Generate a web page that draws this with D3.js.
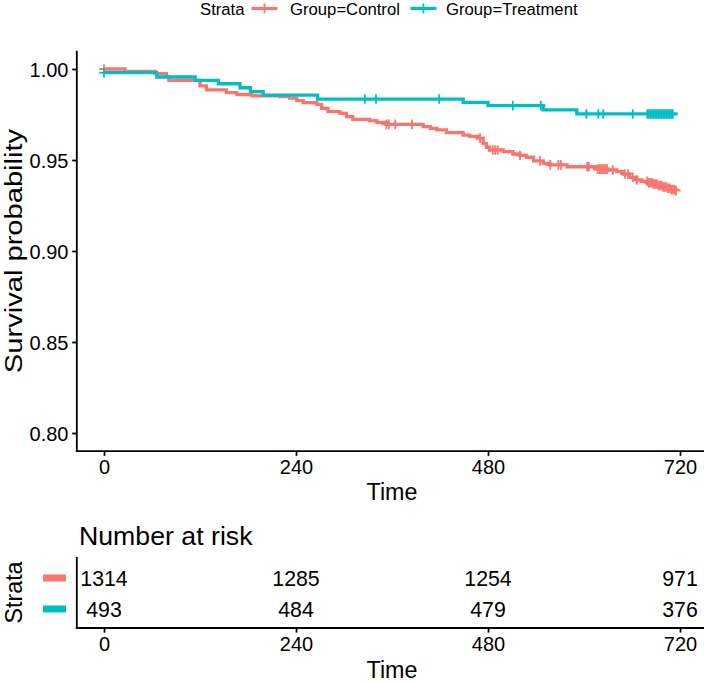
<!DOCTYPE html>
<html>
<head>
<meta charset="utf-8">
<script src="https://cdn.jsdelivr.net/npm/d3@7"></script>
<style>
  html, body { margin: 0; padding: 0; background: #fff; }
  svg { display: block; font-family: "Liberation Sans", Arial, sans-serif; }
</style>
</head>
<body>
<svg id="chart" width="704" height="682"></svg>
<script>
// ---------------- data ----------------
const strata = ["Group=Control", "Group=Treatment"];
const strataColors = ["#F8766D", "#00BFC4"];

const controlTime = [0, 26, 64, 78, 81, 120, 128, 153, 166, 185, 220, 232, 241, 249, 266, 272, 280, 295, 303, 311, 332, 341, 353, 399, 408, 416, 428, 449, 457, 467, 474, 478, 482, 499, 511, 520, 528, 537, 549, 557, 579, 614, 630, 641, 649, 657, 666, 672, 680, 686, 692, 698, 704, 709, 714];
const controlSurv = [1.000, 0.9987, 0.9975, 0.996, 0.9938, 0.9907, 0.9885, 0.987, 0.986, 0.9853, 0.9848, 0.984, 0.9826, 0.9815, 0.9806, 0.9784, 0.9766, 0.9756, 0.9738, 0.9723, 0.9716, 0.9707, 0.9696, 0.9683, 0.9674, 0.9665, 0.965, 0.9637, 0.963, 0.962, 0.959, 0.957, 0.9555, 0.9546, 0.9533, 0.9525, 0.9515, 0.9495, 0.9482, 0.9473, 0.9463, 0.945, 0.9445, 0.9436, 0.9423, 0.9405, 0.939, 0.9383, 0.9375, 0.9368, 0.936, 0.9352, 0.9345, 0.9338, 0.9332];
const controlEnd = 716;
const controlCensor = [0, 353, 356, 364, 385, 470, 486, 489, 492, 520, 545, 558, 568, 571, 604, 606, 617, 619, 621, 623, 625, 627, 629, 636, 651, 655, 661, 666, 679, 681, 683, 685, 687, 689, 691, 693, 695, 697, 699, 701, 703, 705, 707, 709, 711, 713, 715];

const treatTime = [0, 66, 114, 143, 170, 183, 199, 267, 449, 480, 549, 591];
const treatSurv = [0.998, 0.9956, 0.9938, 0.9919, 0.9897, 0.9876, 0.9857, 0.9835, 0.9817, 0.9799, 0.9775, 0.9753];
const treatEnd = 717;
const treatCensor = [0, 326, 340, 419, 511, 546, 603, 618, 624, 661, 679, 681, 683, 685, 687, 689, 691, 693, 695, 697, 699, 701, 703, 705, 707, 709, 711];

const xTicks = [0, 240, 480, 720];
const yTicks = [0.80, 0.85, 0.90, 0.95, 1.00];
const riskControl = [1314, 1285, 1254, 971];
const riskTreat = [493, 484, 479, 376];

// ---------------- setup ----------------
const svg = d3.select("#chart");
const FONT = '"Liberation Sans", Arial, sans-serif';
const axisW = 1.8;

const x = d3.scaleLinear().domain([0, 720]).range([104, 680]);
const y = d3.scaleLinear().domain([0.80, 1.00]).range([433, 69]);

const leftX = x(-34);      // y-axis line position
const topY = y(1.01);
const botY = y(0.79);

const series = [
  {name: strata[0], color: strataColors[0], time: controlTime, surv: controlSurv, end: controlEnd, censor: controlCensor},
  {name: strata[1], color: strataColors[1], time: treatTime, surv: treatSurv, end: treatEnd, censor: treatCensor}
];

// ---------------- legend ----------------
const leg = svg.append("g").attr("font-family", FONT).attr("font-size", 16.7);
leg.append("text").attr("x", 200).attr("y", 15).text("Strata");
const legItems = [{cx: 264.5, tx: 290}, {cx: 423.5, tx: 446}];
series.forEach((s, i) => {
  const it = legItems[i];
  leg.append("line").attr("x1", it.cx - 13).attr("x2", it.cx + 13).attr("y1", 8.5).attr("y2", 8.5)
    .attr("stroke", s.color).attr("stroke-width", 3.2);
  leg.append("line").attr("x1", it.cx).attr("x2", it.cx).attr("y1", 3.5).attr("y2", 13.5)
    .attr("stroke", s.color).attr("stroke-width", 1.8);
  leg.append("text").attr("x", it.tx).attr("y", 15).text(s.name);
});

// ---------------- main plot ----------------
const main = svg.append("g");

const line = d3.line().x(d => x(d[0])).y(d => y(d[1])).curve(d3.curveStepAfter);
series.forEach(s => {
  const pts = s.time.map((t, i) => [t, s.surv[i]]);
  pts.push([s.end, s.surv[s.surv.length - 1]]);
  main.append("path").attr("d", line(pts)).attr("fill", "none")
    .attr("stroke", s.color).attr("stroke-width", 3.3);
  const survAt = t => s.surv[Math.max(0, d3.bisectRight(s.time, t) - 1)];
  main.append("g").selectAll("path").data(s.censor).join("path")
    .attr("d", t => {
      const cx = x(t), cy = y(survAt(t));
      return `M${cx - 4.8},${cy}H${cx + 4.8}M${cx},${cy - 4.8}V${cy + 4.8}`;
    })
    .attr("stroke", s.color).attr("stroke-width", 1.8).attr("fill", "none");
});

// axes
function styleAxis(g) {
  g.select(".domain").remove();
  g.selectAll(".tick line").attr("stroke", "#000").attr("stroke-width", axisW);
  g.selectAll(".tick text").attr("fill", "#000").attr("font-family", FONT).attr("font-size", 20);
}
const yAxis = main.append("g").attr("transform", `translate(${leftX},0)`)
  .call(d3.axisLeft(y).tickValues(yTicks).tickFormat(d3.format(".2f")).tickSize(4.6).tickPadding(3.7));
styleAxis(yAxis);
yAxis.selectAll(".tick text").attr("dy", "0.36em");

const xAxis = main.append("g").attr("transform", `translate(0,${botY})`)
  .call(d3.axisBottom(x).tickValues(xTicks).tickFormat(d3.format("d")).tickSize(4.6).tickPadding(3.7));
styleAxis(xAxis);
xAxis.selectAll(".tick text").attr("dy", "0.72em");

main.append("line").attr("x1", leftX).attr("x2", leftX).attr("y1", topY).attr("y2", botY + axisW / 2)
  .attr("stroke", "#000").attr("stroke-width", axisW);
main.append("line").attr("x1", leftX - axisW / 2).attr("x2", 704).attr("y1", botY).attr("y2", botY)
  .attr("stroke", "#000").attr("stroke-width", axisW);

main.append("text").attr("x", (104 + 680) / 2).attr("y", 500).attr("text-anchor", "middle")
  .attr("font-family", FONT).attr("font-size", 23.3).text("Time");
main.append("text").attr("transform", `translate(22,${(topY + botY) / 2}) rotate(-90) scale(1.25,1)`)
  .attr("text-anchor", "middle").attr("font-family", FONT).attr("font-size", 23.3).text("Survival probability");

// ---------------- risk table ----------------
const risk = svg.append("g");
risk.append("text").attr("x", 79).attr("y", 545).attr("font-family", FONT).attr("font-size", 26.7).text("Number at risk");

const rowY = d3.scalePoint().domain(strata).range([578, 609]);
const riskData = [riskControl, riskTreat];
series.forEach((s, i) => {
  const ry = rowY(s.name);
  risk.append("g").selectAll("text").data(riskData[i]).join("text")
    .attr("x", (d, j) => x(xTicks[j])).attr("y", ry).attr("dy", "0.36em")
    .attr("text-anchor", "middle").attr("font-family", FONT).attr("font-size", 21.3)
    .text(d => d);
  risk.append("rect").attr("x", 43).attr("y", ry - 3.5).attr("width", 23).attr("height", 7)
    .attr("fill", s.color);
});

const riskBot = 628;
const rAxis = risk.append("g").attr("transform", `translate(0,${riskBot})`)
  .call(d3.axisBottom(x).tickValues(xTicks).tickFormat(d3.format("d")).tickSize(4.6).tickPadding(3.7));
styleAxis(rAxis);
rAxis.selectAll(".tick text").attr("dy", "0.72em");
risk.append("line").attr("x1", leftX).attr("x2", leftX).attr("y1", 557).attr("y2", riskBot + axisW / 2)
  .attr("stroke", "#000").attr("stroke-width", axisW);
risk.append("line").attr("x1", leftX - axisW / 2).attr("x2", 704).attr("y1", riskBot).attr("y2", riskBot)
  .attr("stroke", "#000").attr("stroke-width", axisW);

risk.append("text").attr("x", (104 + 680) / 2).attr("y", 678).attr("text-anchor", "middle")
  .attr("font-family", FONT).attr("font-size", 23.3).text("Time");
risk.append("text").attr("transform", `translate(22,${(557 + riskBot) / 2}) rotate(-90)`)
  .attr("text-anchor", "middle").attr("font-family", FONT).attr("font-size", 23.3).text("Strata");
</script>
</body>
</html>
